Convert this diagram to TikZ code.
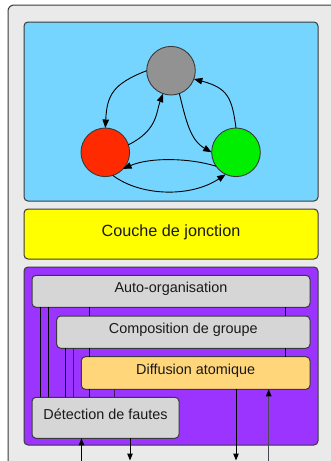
\documentclass[tikz,border=0pt]{standalone}
\usepackage{fontspec}
\setmainfont{Liberation Sans}
\usetikzlibrary{arrows.meta}

\definecolor{framegrey}{HTML}{EAEAEA}
\definecolor{edgegrey}{HTML}{3A3A3A}
\definecolor{skyblue}{HTML}{76D5FE}
\definecolor{junction}{HTML}{FFFF00}
\definecolor{violet}{HTML}{9A34FE}
\definecolor{layergrey}{HTML}{D6D6D6}
\definecolor{layerorange}{HTML}{FFD67A}
\definecolor{nodegrey}{HTML}{929292}
\definecolor{nodered}{HTML}{FF2A00}
\definecolor{nodegreen}{HTML}{00EE00}
\definecolor{darkviolet}{HTML}{3E1A66}
\definecolor{wiregrey}{HTML}{4A4652}

\tikzset{
  panel/.style={draw=edgegrey, line width=1pt, rounded corners=4pt,
    inner sep=0pt, outer sep=0pt, anchor=north west},
  layer/.style={panel, fill=layergrey},
  state/.style={circle, draw=edgegrey, line width=0.9pt, minimum size=48.6pt,
    inner sep=0pt, outer sep=0pt},
  flow/.style={line width=0.9pt, draw=black,
    -{Triangle[length=8.5pt,width=6.5pt]}},
  wire/.style={line width=1pt, draw=black},
  softwire/.style={line width=1pt, draw=darkviolet},
  port/.style={line width=1pt, -{Triangle[length=7pt,width=5.5pt,color=black]}},
  lbl/.style={anchor=base, inner sep=0pt, text=black!90,
    font=\fontsize{14.4}{17}\selectfont},
}

\begin{document}
\begin{tikzpicture}[x=1pt, y=-1pt]
  \useasboundingbox (0,0) rectangle (331,461);
  \clip (0,0) rectangle (331,461);
  \fill[white] (0,0) rectangle (331,461);

  % outer frame, running past the lower and right edges
  \draw[draw=edgegrey, fill=framegrey, line width=1pt, rounded corners=6pt]
    (8,5) rectangle (345,480);

  % three stacked panels
  \node[panel, fill=skyblue, minimum width=294pt, minimum height=179pt] (top) at (24,22) {};
  \node[panel, fill=junction, minimum width=294pt, minimum height=50pt] (junc) at (24,209) {};
  \node[lbl, font=\fontsize{16.2}{19}\selectfont] (junclbl) at (171,236.3) {Couche de jonction};
  \node[panel, fill=violet, minimum width=294pt, minimum height=178pt] (stack) at (24,267) {};

  % state graph
  \node[state, fill=nodegrey] (g) at (171,70.7) {};
  \node[state, fill=nodered] (r) at (105.3,152.3) {};
  \node[state, fill=nodegreen] (v) at (236,152.3) {};

  \draw[flow] (g.180) .. controls (112,84) and (107,96) .. (r.north);
  \draw[flow] (r.18) .. controls (158,130) and (156,112) .. (g.251);
  \draw[flow] (g.290) .. controls (186,120) and (190,140) .. (v.180);
  \draw[flow] (v.90) .. controls (232,98) and (228,88) .. (g.340);
  \draw[flow] (v.215) .. controls (190,158) and (150,157) .. (r.317);
  \draw[flow] (r.288) .. controls (140,196) and (190,198) .. (v.245);

  % protocol layers
  \node[layer, minimum width=278pt, minimum height=32pt] (auto) at (32,275.3) {};
  \node[layer, minimum width=253.3pt, minimum height=32.3pt] (comp) at (56.7,316) {};
  \node[layer, fill=layerorange, minimum width=228.7pt, minimum height=32.6pt] (diff) at (81.3,356.7) {};
  \node[layer, minimum width=147pt, minimum height=41pt] (detect) at (32,397.3) {};

  \node[lbl] (autolbl) at (171,292) {Auto-organisation};
  \node[lbl] (complbl) at (183.3,333.5) {Composition de groupe};
  \node[lbl] (difflbl) at (195.7,374.3) {Diffusion atomique};
  \node[lbl] (detectlbl) at (105.5,419) {Détection de fautes};

  % links between layers
  \draw[wire] (40.7,0 |- auto.south) -- (40.7,0 |- detect.north);
  \draw[wire] (48.7,0 |- auto.south) -- (48.7,0 |- detect.north);
  \draw[wire] (89.3,0 |- auto.south) -- (89.3,0 |- comp.north);
  \draw[wire] (285,0 |- auto.south) -- (285,0 |- comp.north);
  \draw[wire] (65,0 |- comp.south) -- (65,0 |- detect.north);
  \draw[softwire] (73,0 |- comp.south) -- (73,0 |- detect.north);
  \draw[wire] (89.3,0 |- comp.south) -- (89.3,0 |- diff.north);
  \draw[wire] (285,0 |- comp.south) -- (285,0 |- diff.north);
  \draw[wire] (89.3,0 |- diff.south) -- (89.3,0 |- detect.north);
  \draw[softwire] (114,0 |- diff.south) -- (114,0 |- detect.north);

  % external inputs and outputs
  \coordinate (inD) at (81.5,475);
  \coordinate (outD) at (130,460.5);
  \coordinate (outF) at (236,460.5);
  \coordinate (inF) at (268.7,475);
  \draw[port] (inD) -- (81.5,0 |- detect.south);
  \draw[port] (130,0 |- detect.south) -- (outD);
  \draw[port] (236,0 |- diff.south) -- (outF);
  \draw[port, draw=wiregrey, line width=1.2pt] (inF) -- (268.7,0 |- diff.south);
\end{tikzpicture}
\end{document}
